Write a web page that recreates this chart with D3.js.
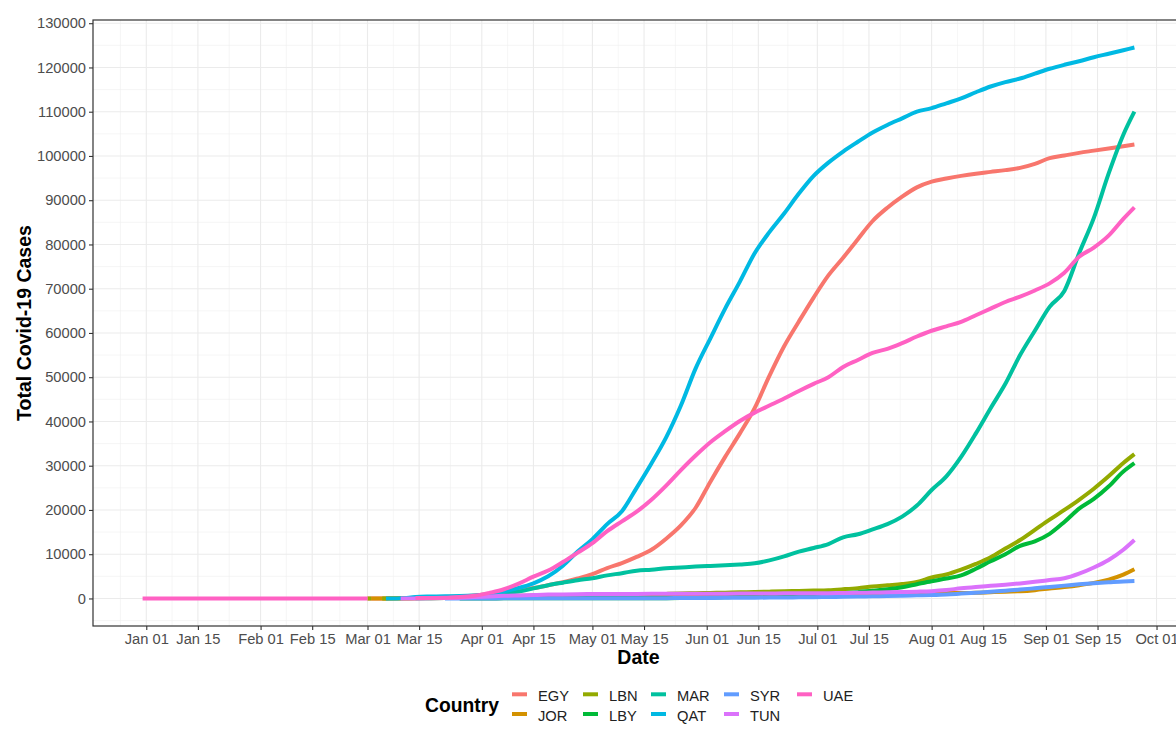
<!DOCTYPE html>
<html>
<head>
<meta charset="utf-8">
<script src="https://cdn.jsdelivr.net/npm/d3@7"></script>
<style>
  html, body { margin: 0; padding: 0; background: #ffffff; }
  svg { display: block; font-family: "Liberation Sans", Arial, Helvetica, sans-serif; }
</style>
</head>
<body>
<svg id="chart" width="1176" height="729"></svg>
<script>
// ---- data -------------------------------------------------------------
const dates = [
  "2019-12-31","2020-01-15","2020-02-01","2020-02-15","2020-03-01","2020-03-02","2020-03-03","2020-03-05",
  "2020-03-06","2020-03-09","2020-03-10","2020-03-14","2020-03-18","2020-03-22","2020-03-26","2020-03-30",
  "2020-04-03","2020-04-07","2020-04-11","2020-04-15","2020-04-19","2020-04-23","2020-04-27","2020-05-01",
  "2020-05-05","2020-05-09","2020-05-13","2020-05-17","2020-05-21","2020-05-25","2020-05-29","2020-06-02",
  "2020-06-06","2020-06-10","2020-06-14","2020-06-18","2020-06-22","2020-06-26","2020-06-30","2020-07-04",
  "2020-07-08","2020-07-12","2020-07-16","2020-07-20","2020-07-24","2020-07-28","2020-08-01","2020-08-05",
  "2020-08-09","2020-08-13","2020-08-17","2020-08-21","2020-08-25","2020-08-29","2020-09-02","2020-09-06",
  "2020-09-10","2020-09-14","2020-09-18","2020-09-22","2020-09-25"
];

const countries = ["EGY", "JOR", "LBN", "LBY", "MAR", "QAT", "SYR", "TUN", "UAE"];
const colors    = ["#F8766D", "#D39200", "#93AA00", "#00BA38", "#00C19F", "#00B9E3", "#619CFF", "#DB72FB", "#FF61C3"];

// cumulative confirmed cases per date (null = no report)
const EGY = [null,null,null,null,2,2,2,3,15,55,59,93,196,327,456,656,
  985,1450,1939,2350,3000,3650,4500,5500,6870,8000,9400,11000,13500,16500,20500,26400,
  32000,37300,43000,50300,57000,62600,68000,73000,77000,81200,85300,88300,90800,92900,94200,94900,
  95500,96000,96400,96800,97300,98200,99500,100100,100700,101200,101700,102200,102600];
const JOR = [null,null,null,null,null,0,0,1,1,1,1,1,52,112,212,259,
  310,358,381,397,413,435,449,453,465,508,576,608,672,708,739,755,
  784,831,890,1001,1071,1122,1132,1155,1169,1176,1179,1194,1213,1216,1223,1232,
  1239,1265,1401,1532,1638,1880,2233,2581,3000,3520,4270,5400,6600];
const LBN = [null,null,null,null,0,0,null,13,16,32,41,93,133,248,368,438,
  494,548,609,641,673,688,710,729,741,796,870,911,1024,1119,1172,1242,
  1312,1388,1446,1536,1622,1697,1778,1873,2082,2334,2700,2980,3260,3750,4730,5420,
  6500,7800,9300,11300,13200,15500,17800,20000,22300,24800,27600,30600,32600];
const LBY = [null,null,null,null,null,null,null,null,null,null,null,null,null,null,1,8,
  11,19,24,35,51,60,61,61,63,64,64,65,71,75,130,196,
  256,390,454,500,600,760,900,1070,1250,1430,1730,2060,2530,3220,3900,4500,
  5200,6700,8400,10000,11900,12900,14600,17300,20300,22500,25300,28700,30600];
const MAR = [null,null,null,null,null,null,null,null,null,null,null,18,49,115,225,556,
  708,1120,1540,2280,3000,3570,4120,4570,5220,5710,6280,6500,6800,7000,7200,7350,
  7500,7700,7950,8600,9500,10600,11400,12300,13800,14500,15600,16800,18500,21000,24500,27600,
  32000,37300,43000,48500,55000,60500,65900,69500,78000,86000,96000,104800,110000];
const QAT = [null,null,null,null,null,null,null,null,8,15,24,337,442,494,549,693,
  949,1604,2376,3428,5008,7400,10600,13409,16800,19700,25000,30500,36400,43600,52000,58800,
  65500,71600,78000,82800,87000,91500,95500,98500,101000,103200,105300,107000,108500,110000,110800,111900,
  113000,114400,115700,116700,117500,118600,119700,120600,121400,122300,123100,123900,124500];
const SYR = [null,null,null,null,null,null,null,null,null,null,null,null,null,1,5,10,
  16,19,25,29,39,42,43,43,45,47,48,58,64,106,122,124,
  141,164,177,197,204,250,280,330,370,420,480,530,620,700,780,900,
  1100,1300,1500,1750,2000,2300,2600,2900,3200,3450,3650,3850,3950];
const TUN = [null,null,null,null,null,null,null,null,null,null,5,16,29,75,173,312,
  455,596,685,780,866,909,967,994,1018,1032,1035,1037,1045,1051,1071,1087,
  1087,1093,1110,1128,1157,1172,1178,1188,1231,1263,1327,1381,1455,1535,1650,1900,
  2300,2600,2850,3100,3400,3750,4150,4550,5600,7000,8700,11000,13200];
const UAE = [0,0,0,0,0,null,null,null,null,null,null,85,113,153,333,611,
  1264,2076,3360,4933,6302,8238,10349,12481,15192,17417,19600,22300,25500,29000,32300,35300,
  37800,40100,42000,43600,45200,46900,48500,50000,52300,53900,55500,56400,57700,59200,60500,61500,
  62500,64000,65500,67000,68200,69600,71200,73600,77200,79300,82000,85800,88400];

const seriesValues = [EGY, JOR, LBN, LBY, MAR, QAT, SYR, TUN, UAE];

const xTickDates = [
  "2020-01-01","2020-01-15","2020-02-01","2020-02-15","2020-03-01","2020-03-15","2020-04-01","2020-04-15",
  "2020-05-01","2020-05-15","2020-06-01","2020-06-15","2020-07-01","2020-07-15","2020-08-01","2020-08-15",
  "2020-09-01","2020-09-15","2020-10-01"
];
const yTickValues = [0, 10000, 20000, 30000, 40000, 50000, 60000, 70000, 80000, 90000, 100000, 110000, 120000, 130000];

// ---- layout -----------------------------------------------------------
const panel = { left: 93, top: 20, right: 1184, bottom: 626 };
const svg = d3.select("#chart");

const parse = d3.utcParse("%Y-%m-%d");
const t = dates.map(parse);
const xTicks = xTickDates.map(parse);

const [t0, t1] = d3.extent(t);
const padT = (t1 - t0) * 0.05;
const x = d3.scaleUtc()
  .domain([new Date(+t0 - padT), new Date(+t1 + padT)])
  .range([panel.left, panel.right]);

const yMax = d3.max(seriesValues.flat().filter(v => v != null));
const padY = yMax * 0.05;
const y = d3.scaleLinear()
  .domain([-padY, yMax + padY])
  .range([panel.bottom, panel.top]);

// clip for everything drawn inside the panel
svg.append("defs").append("clipPath").attr("id", "panel-clip")
  .append("rect")
  .attr("x", panel.left).attr("y", panel.top)
  .attr("width", panel.right - panel.left).attr("height", panel.bottom - panel.top);

const plot = svg.append("g").attr("clip-path", "url(#panel-clip)");

// ---- grid -------------------------------------------------------------
const xMinor = [];
xMinor.push(new Date(+xTicks[0] - (xTicks[1] - xTicks[0]) / 2));
for (let i = 0; i < xTicks.length - 1; i++) {
  xMinor.push(new Date((+xTicks[i] + +xTicks[i + 1]) / 2));
}
const yStep = yTickValues[1] - yTickValues[0];
const yMinor = [yTickValues[0] - yStep / 2].concat(yTickValues.map(v => v + yStep / 2));

const yDom = y.domain();
plot.append("g").selectAll("line").data(yMinor.filter(v => v >= yDom[0] && v <= yDom[1])).join("line")
  .attr("x1", panel.left).attr("x2", panel.right)
  .attr("y1", d => y(d)).attr("y2", d => y(d))
  .attr("stroke", "#f0f0f0").attr("stroke-width", 0.6);
plot.append("g").selectAll("line").data(xMinor).join("line")
  .attr("y1", panel.top).attr("y2", panel.bottom)
  .attr("x1", d => x(d)).attr("x2", d => x(d))
  .attr("stroke", "#f0f0f0").attr("stroke-width", 0.6);
plot.append("g").selectAll("line").data(yTickValues).join("line")
  .attr("x1", panel.left).attr("x2", panel.right)
  .attr("y1", d => y(d)).attr("y2", d => y(d))
  .attr("stroke", "#ebebeb").attr("stroke-width", 1.1);
plot.append("g").selectAll("line").data(xTicks).join("line")
  .attr("y1", panel.top).attr("y2", panel.bottom)
  .attr("x1", d => x(d)).attr("x2", d => x(d))
  .attr("stroke", "#ebebeb").attr("stroke-width", 1.1);

// ---- lines ------------------------------------------------------------
const line = d3.line()
  .defined(d => d.v != null)
  .curve(d3.curveMonotoneX)
  .x(d => x(d.t))
  .y(d => y(d.v));

const series = countries.map((c, i) => ({
  name: c,
  color: colors[i],
  points: seriesValues[i].map((v, j) => ({ t: t[j], v: v }))
}));

plot.append("g").selectAll("path").data(series).join("path")
  .attr("d", d => line(d.points))
  .attr("fill", "none")
  .attr("stroke", d => d.color)
  .attr("stroke-width", 4)
  .attr("stroke-linecap", "butt")
  .attr("stroke-linejoin", "round");

// ---- panel border -----------------------------------------------------
svg.append("rect")
  .attr("x", panel.left).attr("y", panel.top)
  .attr("width", panel.right - panel.left).attr("height", panel.bottom - panel.top)
  .attr("fill", "none").attr("stroke", "#333333").attr("stroke-width", 1.2);

// ---- axes -------------------------------------------------------------
const yAxis = svg.append("g")
  .attr("transform", `translate(${panel.left},0)`)
  .call(d3.axisLeft(y).tickValues(yTickValues).tickFormat(d3.format("d")).tickSize(4).tickPadding(3));
const xAxis = svg.append("g")
  .attr("transform", `translate(0,${panel.bottom})`)
  .call(d3.axisBottom(x).tickValues(xTicks).tickFormat(d3.utcFormat("%b %d")).tickSize(4).tickPadding(3.5));

[yAxis, xAxis].forEach(g => {
  g.select(".domain").remove();
  g.selectAll(".tick line").attr("stroke", "#333333").attr("stroke-width", 1.1);
  g.selectAll(".tick text")
    .attr("fill", "#4d4d4d")
    .style("font-size", "14.7px")
    .style("font-family", "'Liberation Sans', Arial, sans-serif");
});

// axis titles
svg.append("text")
  .attr("transform", `translate(31,${(panel.top + panel.bottom) / 2}) rotate(-90)`)
  .attr("text-anchor", "middle")
  .style("font-size", "19.5px").style("font-weight", "bold").attr("fill", "#000")
  .text("Total Covid-19 Cases");

svg.append("text")
  .attr("x", (panel.left + panel.right) / 2).attr("y", 664)
  .attr("text-anchor", "middle")
  .style("font-size", "19.5px").style("font-weight", "bold").attr("fill", "#000")
  .text("Date");

// ---- legend -----------------------------------------------------------
const legend = svg.append("g");
legend.append("text")
  .attr("x", 425).attr("y", 711.5)
  .style("font-size", "19.3px").style("font-weight", "bold").attr("fill", "#000")
  .text("Country");

const colX = [512, 583, 651, 724, 797];
const rowY = [694.3, 714];
const items = legend.selectAll("g.item").data(series).join("g")
  .attr("class", "item")
  .attr("transform", (d, i) => `translate(${colX[Math.floor(i / 2)]},${rowY[i % 2]})`);
items.append("line")
  .attr("x1", 0).attr("x2", 15).attr("y1", 0).attr("y2", 0)
  .attr("stroke", d => d.color).attr("stroke-width", 4);
items.append("text")
  .attr("x", 26).attr("y", 6.8)
  .style("font-size", "14.7px").attr("fill", "#222")
  .text(d => d.name);
</script>
</body>
</html>
